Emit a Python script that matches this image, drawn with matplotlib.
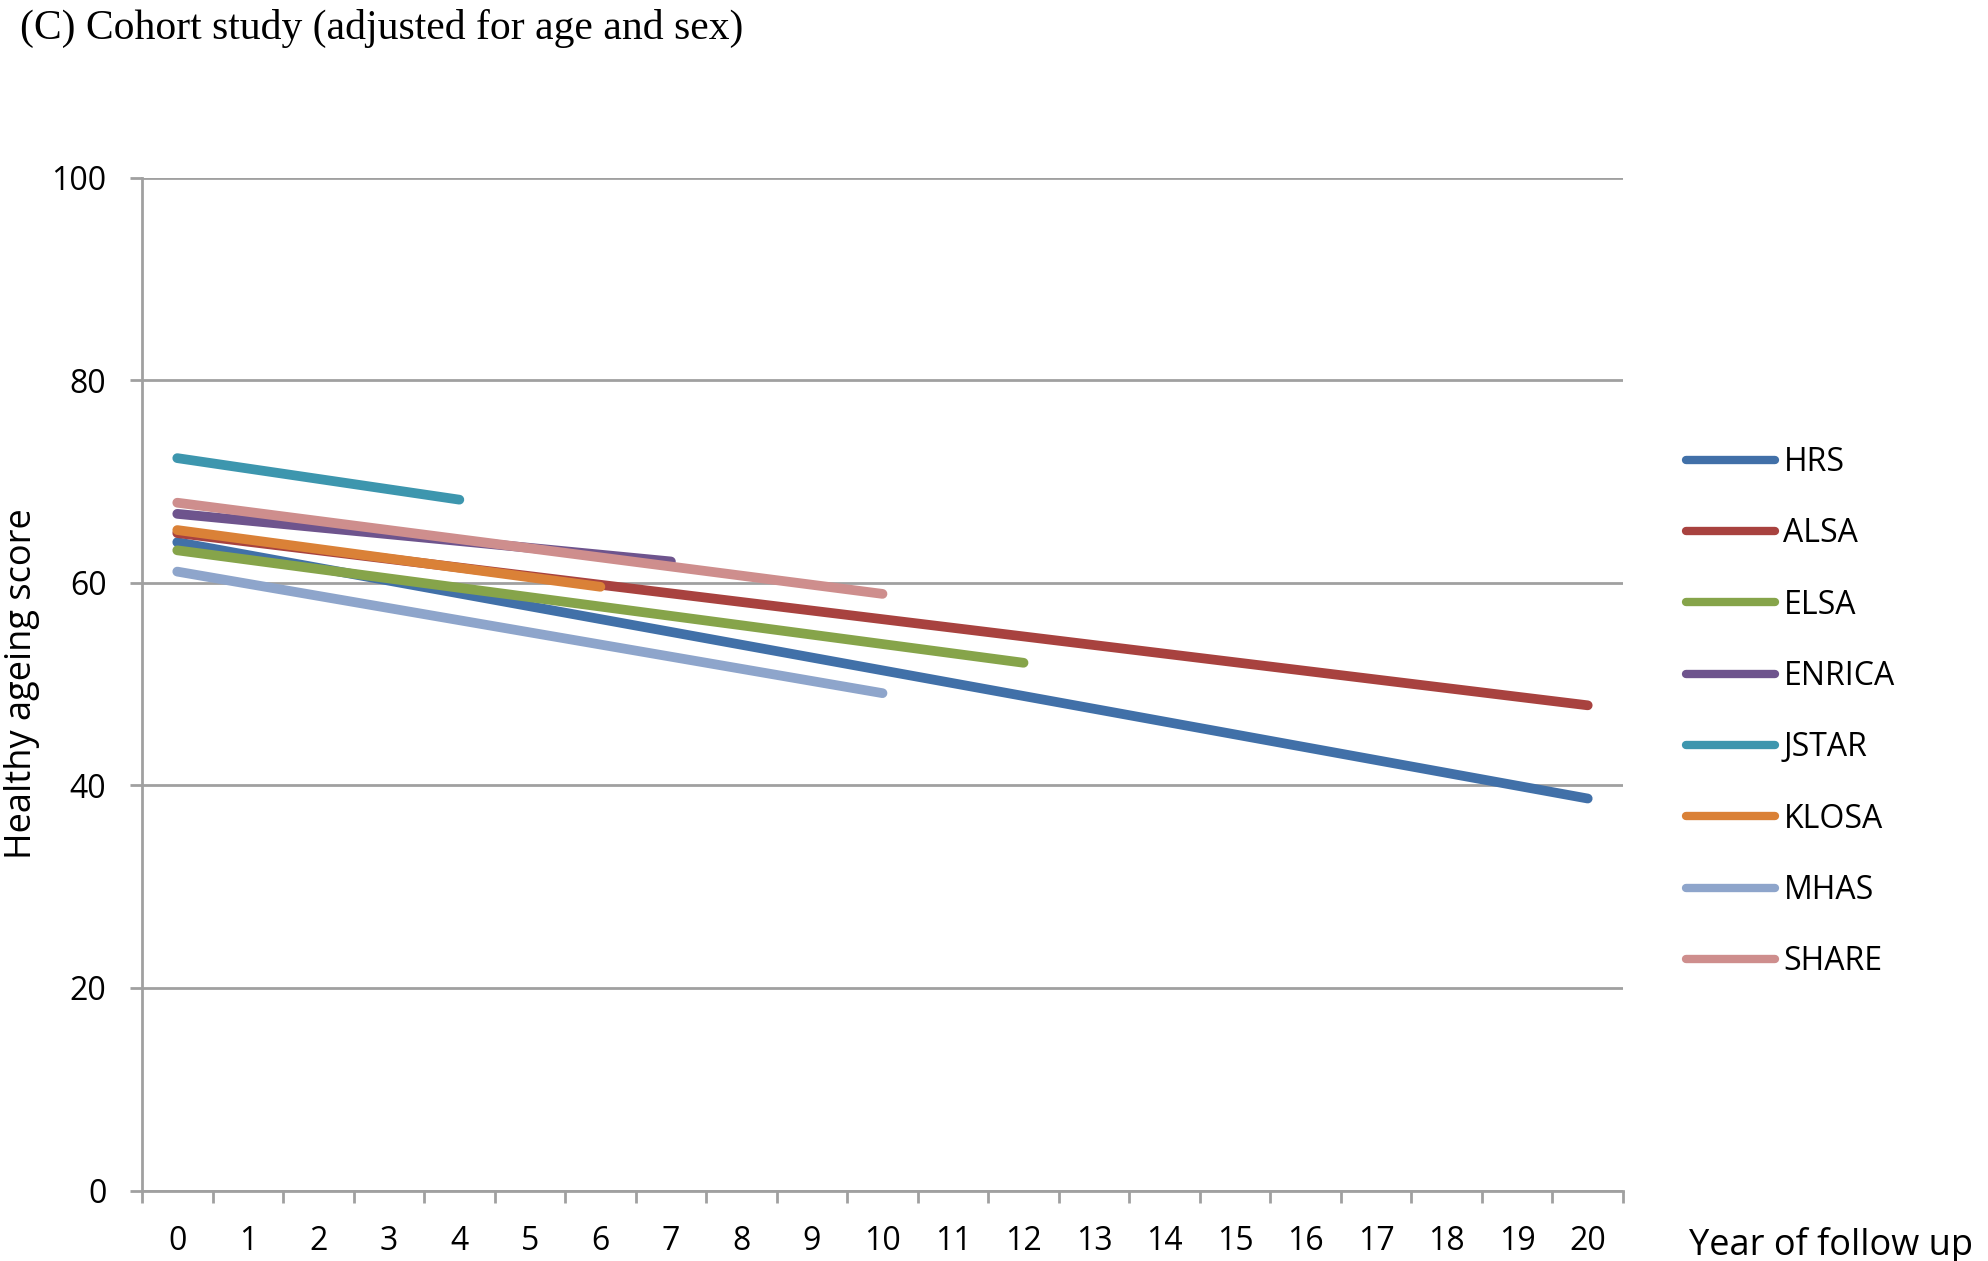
import matplotlib
matplotlib.use("Agg")
import matplotlib.pyplot as plt
from matplotlib.ticker import FixedLocator, NullFormatter, FixedFormatter

# ---- data ----
studies = ["HRS", "ALSA", "ELSA", "ENRICA", "JSTAR", "KLOSA", "MHAS", "SHARE"]
hrs_years, hrs_scores = [0, 20], [64.0, 38.7]
alsa_years, alsa_scores = [0, 20], [64.9, 47.9]
elsa_years, elsa_scores = [0, 12], [63.2, 52.1]
enrica_years, enrica_scores = [0, 7], [66.8, 62.1]
jstar_years, jstar_scores = [0, 4], [72.3, 68.2]
klosa_years, klosa_scores = [0, 6], [65.2, 59.6]
mhas_years, mhas_scores = [0, 10], [61.1, 49.1]
share_years, share_scores = [0, 10], [67.9, 58.9]
year_labels = [str(i) for i in range(21)]
y_ticks = [0, 20, 40, 60, 80, 100]

series = [
    (hrs_years, hrs_scores), (alsa_years, alsa_scores), (elsa_years, elsa_scores),
    (enrica_years, enrica_scores), (jstar_years, jstar_scores), (klosa_years, klosa_scores),
    (mhas_years, mhas_scores), (share_years, share_scores),
]
colors = ["#4170A8", "#A8423F", "#86A44A", "#6E548D", "#3D96AE", "#DA8137", "#8EA5CB", "#CE8E8D"]

W, H = 1988, 1261
fig = plt.figure(figsize=(W / 100, H / 100), dpi=100)
L, R, T, B = 142, 1623, 177.5, 1190.6
ax = fig.add_axes([L / W, 1 - B / H, (R - L) / W, (B - T) / H])

sans = "Open Sans"
grey = "#A0A0A0"

for (xs, ys), name, c in zip(series, studies, colors):
    ax.plot(xs, ys, color=c, lw=7, solid_capstyle="round", label=name)

ax.set_xlim(-0.5, 20.5)
ax.set_ylim(0, 100)

# y axis
ax.set_yticks(y_ticks)
ax.set_yticklabels([str(v) for v in y_ticks], fontfamily=sans, fontsize=23)
ax.tick_params(axis="y", length=8.6, width=2, color=grey, pad=17)
ax.yaxis.grid(True, color=grey, lw=2)
ax.set_axisbelow(True)

# x axis: ticks between categories, labels at centers
ax.xaxis.set_major_locator(FixedLocator([i - 0.5 for i in range(22)]))
ax.xaxis.set_major_formatter(NullFormatter())
ax.xaxis.set_minor_locator(FixedLocator(list(range(21))))
ax.xaxis.set_minor_formatter(FixedFormatter(year_labels))
ax.tick_params(axis="x", which="major", length=8.6, width=2, color=grey)
ax.tick_params(axis="x", which="minor", length=0, pad=25, labelsize=23)
for lab in ax.xaxis.get_minorticklabels():
    lab.set_fontfamily(sans)

for s in ["top", "right"]:
    ax.spines[s].set_visible(False)
for s in ["left", "bottom"]:
    ax.spines[s].set_color(grey)
    ax.spines[s].set_linewidth(2)

ax.set_ylabel("Healthy ageing score", fontfamily=sans, fontsize=26)
ax.yaxis.set_label_coords((40 - L) / (R - L), 0.5)
ax.set_xlabel("Year of follow up", fontfamily=sans, fontsize=26, ha="left", va="center")
ax.xaxis.set_label_coords((1689 - L) / (R - L), -(1245 - B) / (B - T))

leg = ax.legend(loc="upper left", bbox_to_anchor=(1686 / W, 1 - 446 / H),
                bbox_transform=fig.transFigure, frameon=False, borderpad=0,
                borderaxespad=0, handlelength=2.8, handletextpad=0.25,
                labelspacing=1.2, prop={"family": sans, "size": 23})
for h in leg.get_lines():
    h.set_linewidth(6)
    h.set_solid_capstyle("round")

fig.text(20 / W, 1 - 28 / H, "(C) Cohort study (adjusted for age and sex)",
         fontfamily="Liberation Serif", fontsize=30, ha="left", va="center")

fig.savefig("out.png", dpi=100)
